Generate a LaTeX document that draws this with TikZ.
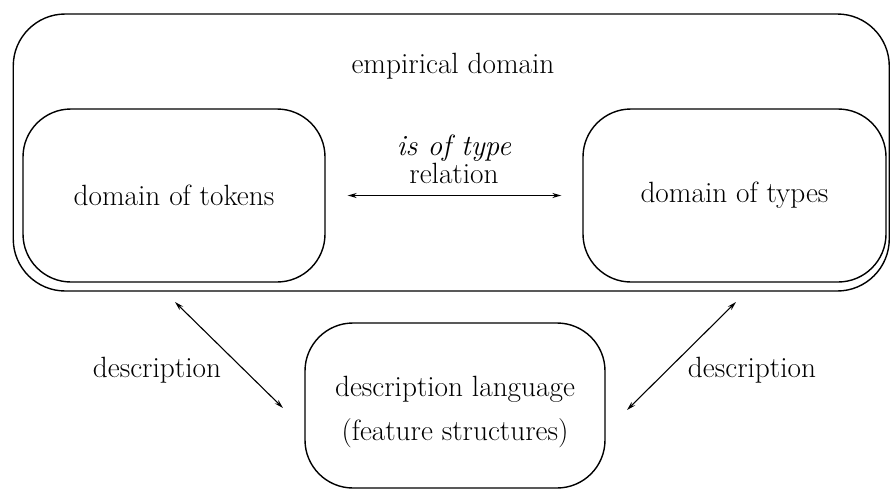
\documentclass[tikz,border=0pt]{standalone}
\usetikzlibrary{arrows.meta}
\begin{document}
\begin{tikzpicture}[x=1pt,y=-1pt,
  every node/.style={font=\fontsize{29.3}{43}\selectfont},
  roundbox/.style={draw, line width=1.4pt, rounded corners=48pt, inner sep=0pt},
  dblarrow/.style={line width=1.1pt, {Stealth[length=9pt,width=5pt]}-{Stealth[length=9pt,width=5pt]}}]
  \useasboundingbox (0,0) rectangle (890,490);

  % outer frame: the empirical domain
  \node[roundbox, rounded corners=52pt, minimum width=876pt, minimum height=277pt] (emp) at (451.25,152.5) {};
  \node[anchor=base] (emplabel) at (453,73) {empirical domain};

  % the two domains inside it
  \node[roundbox, minimum width=302pt, minimum height=173pt] (tokens) at (174,195.5) {domain of tokens};
  \node[roundbox, minimum width=303pt, minimum height=173pt] (types) at (734.5,195.5) {domain of types};

  % relation between tokens and types (base = baseline of the last line)
  \node[anchor=base, align=center, font=\fontsize{29.3}{28}\selectfont] (rel) at (454,183) {\textit{is of type}\\relation};
  \draw[dblarrow, shorten <=22pt, shorten >=21pt] (tokens.east) -- (types.west);

  % the description language below
  \node[roundbox, minimum width=300pt, minimum height=165pt] (lang) at (455,405.5) {};
  \node[anchor=base, align=center, font=\fontsize{29.3}{44}\selectfont] (langtext) at (455,440)
    {description language\\(feature structures)};

  % description arrows
  \coordinate (dl1) at (175,302);
  \coordinate (dl2) at (283,408);
  \coordinate (dr1) at (736,302);
  \coordinate (dr2) at (627,410);
  \draw[dblarrow] (dl1) -- (dl2);
  \draw[dblarrow] (dr1) -- (dr2);
  \node[anchor=base] (descl) at (157,377) {description};
  \node[anchor=base] (descr) at (752,377) {description};
\end{tikzpicture}
\end{document}
